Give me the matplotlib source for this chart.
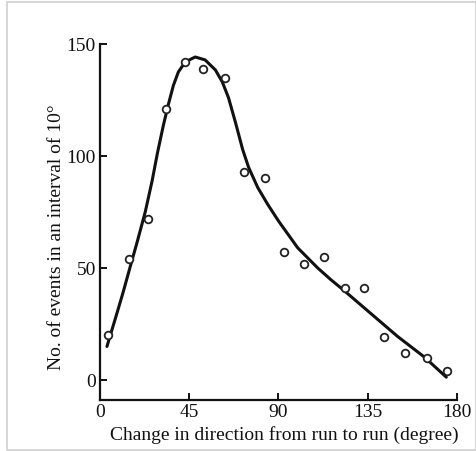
import matplotlib
matplotlib.use('Agg')
import matplotlib.pyplot as plt
from matplotlib.patches import Rectangle

# --- Data ---
# observed events per 10 degree bin
obs_angle = [4, 14.5, 24, 33.4, 43, 52, 63, 72.4, 83, 93, 103, 113, 123.5, 133, 143, 154, 165, 175]
obs_count = [20, 54, 72, 121, 142, 139, 135, 93, 90, 57, 52, 55, 41, 41, 19, 12, 10, 4]

# fitted curve, points
fit_angle = [3.5, 8.6, 11.6, 15.2, 18.7, 22.8, 26.3, 29, 31.9, 34.4, 37, 39.5, 43, 48,
             53, 58.2, 61.7, 64.8, 68.3, 71.9, 74.9, 79.5, 84.5, 90, 99.7,
             109.8, 116.4, 123, 135.5, 150, 163.5, 174.6]
fit_count = [15, 30, 39, 50.5, 61.5, 75, 89, 101.5, 113.5, 122.8, 131.5, 137.5, 142, 144.2,
             142.9, 138.4, 133, 126, 115, 103, 95, 86, 78.5, 71, 59,
             50, 44.8, 40, 30.5, 19.5, 10.3, 1.3]

xticks = [0, 45, 90, 135, 180]
yticks = [0, 50, 100, 150]

W, H = 477, 451
serif = ['Liberation Serif', 'DejaVu Serif']

fig = plt.figure(figsize=(W / 100, H / 100), dpi=100)
fig.patches.append(Rectangle((7 / W, 1 / H), 469 / W, 448 / H, transform=fig.transFigure,
                             fill=False, edgecolor='#d0d0d0', linewidth=1.2))

ax = fig.add_axes([100 / W, (H - 400) / H, 357 / W, 356 / H])
ax.plot(fit_angle, fit_count, color='#111111', linewidth=2.2,
        solid_capstyle='round', solid_joinstyle='round')
ax.plot(obs_angle, obs_count, linestyle='none', marker='o', markersize=5.5,
        markerfacecolor='white', markeredgecolor='#222222', markeredgewidth=1.3)

ax.set_xlim(0, 180)
ax.set_ylim(-8.9, 150)
ax.set_xticks(xticks)
ax.set_yticks(yticks)
ax.spines['top'].set_visible(False)
ax.spines['right'].set_visible(False)
for s in ('left', 'bottom'):
    ax.spines[s].set_linewidth(1.6)
    ax.spines[s].set_color('#111111')
ax.tick_params(direction='in', length=5, width=1.4, colors='#111111', pad=3)
for lab in ax.get_xticklabels() + ax.get_yticklabels():
    lab.set_family(serif)
    lab.set_fontsize(14)

fig.text(284 / W, 1 - 435 / H, 'Change in direction from run to run (degree)',
         ha='center', va='center', fontsize=14, family=serif, color='#111111')
fig.text(57 / W, 1 - 237 / H, 'No. of events in an interval of 10°',
         ha='center', va='center', rotation=90, fontsize=14, family=serif, color='#111111')

fig.savefig('out.png', dpi=100)
